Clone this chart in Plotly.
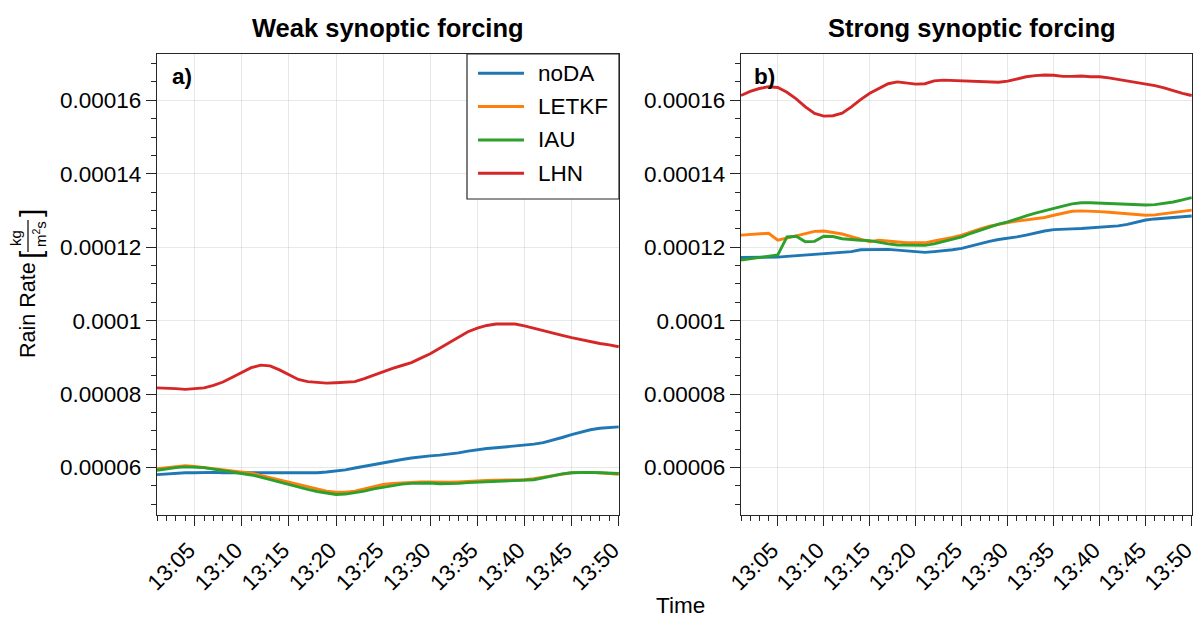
import pandas as pd
import plotly.graph_objects as go

W, H = 1193, 617

# Time axis: one value per minute, 13:01 .. 13:50
times = pd.date_range("2021-07-01 13:01", periods=50, freq="min")

# Domain-mean rain rate, weak synoptic forcing [1e-5 kg m-2 s-1]
weak_noda = [5.81, 5.83, 5.85, 5.86, 5.86, 5.87, 5.87, 5.86, 5.86, 5.86,
             5.85, 5.85, 5.84, 5.84, 5.84, 5.84, 5.85, 5.86, 5.88, 5.90,
             5.94, 5.99, 6.04, 6.08, 6.12, 6.17, 6.22, 6.26, 6.30, 6.32,
             6.34, 6.36, 6.40, 6.45, 6.49, 6.52, 6.54, 6.56, 6.58, 6.61,
             6.64, 6.68, 6.74, 6.82, 6.90, 6.97, 7.03, 7.07, 7.09, 7.11]
weak_letkf = [5.97, 6.00, 6.03, 6.05, 6.03, 6.00, 5.97, 5.95, 5.93, 5.90,
              5.85, 5.79, 5.73, 5.67, 5.61, 5.54, 5.47, 5.41, 5.36, 5.33,
              5.33, 5.36, 5.42, 5.49, 5.54, 5.57, 5.59, 5.61, 5.61, 5.61,
              5.60, 5.60, 5.61, 5.63, 5.64, 5.65, 5.66, 5.66, 5.67, 5.67,
              5.70, 5.74, 5.79, 5.83, 5.86, 5.87, 5.87, 5.86, 5.84, 5.82]
weak_iau = [5.93, 5.97, 6.00, 6.02, 6.02, 6.00, 5.96, 5.92, 5.89, 5.85,
            5.80, 5.74, 5.67, 5.61, 5.55, 5.48, 5.41, 5.35, 5.30, 5.27,
            5.28, 5.31, 5.36, 5.42, 5.47, 5.51, 5.55, 5.57, 5.58, 5.58,
            5.56, 5.56, 5.57, 5.59, 5.60, 5.61, 5.62, 5.63, 5.63, 5.64,
            5.67, 5.72, 5.78, 5.83, 5.86, 5.87, 5.87, 5.86, 5.85, 5.84]
weak_lhn = [8.17, 8.17, 8.15, 8.13, 8.14, 8.17, 8.24, 8.33, 8.46, 8.59,
            8.72, 8.79, 8.77, 8.66, 8.52, 8.40, 8.34, 8.31, 8.30, 8.31,
            8.32, 8.34, 8.42, 8.52, 8.61, 8.70, 8.78, 8.86, 8.98, 9.10,
            9.25, 9.40, 9.56, 9.70, 9.80, 9.87, 9.91, 9.92, 9.91, 9.86,
            9.79, 9.72, 9.66, 9.60, 9.54, 9.48, 9.43, 9.38, 9.34, 9.29]

# Domain-mean rain rate, strong synoptic forcing [1e-5 kg m-2 s-1]
strong_noda = [11.72, 11.72, 11.72, 11.72, 11.73, 11.75, 11.77, 11.79, 11.81, 11.83,
               11.85, 11.86, 11.88, 11.93, 11.94, 11.94, 11.94, 11.92, 11.90, 11.88,
               11.86, 11.88, 11.90, 11.93, 11.97, 12.04, 12.10, 12.16, 12.21, 12.24,
               12.28, 12.33, 12.39, 12.44, 12.48, 12.50, 12.50, 12.51, 12.53, 12.54,
               12.55, 12.58, 12.62, 12.68, 12.74, 12.77, 12.79, 12.81, 12.83, 12.85]
strong_letkf = [12.33, 12.35, 12.37, 12.38, 12.19, 12.24, 12.31, 12.37, 12.43, 12.44,
                12.41, 12.36, 12.29, 12.22, 12.15, 12.19, 12.17, 12.13, 12.12, 12.12,
                12.12, 12.17, 12.21, 12.27, 12.33, 12.42, 12.50, 12.57, 12.63, 12.67,
                12.71, 12.74, 12.77, 12.81, 12.87, 12.93, 12.98, 12.99, 12.99, 12.97,
                12.95, 12.93, 12.91, 12.89, 12.87, 12.88, 12.91, 12.94, 12.97, 13.01]
strong_iau = [11.65, 11.68, 11.72, 11.75, 11.79, 12.28, 12.30, 12.15, 12.16, 12.30,
              12.29, 12.23, 12.20, 12.19, 12.18, 12.13, 12.09, 12.06, 12.05, 12.04,
              12.05, 12.09, 12.15, 12.21, 12.28, 12.38, 12.47, 12.55, 12.63, 12.69,
              12.76, 12.85, 12.93, 13.00, 13.06, 13.12, 13.18, 13.21, 13.21, 13.20,
              13.18, 13.16, 13.15, 13.15, 13.15, 13.16, 13.19, 13.23, 13.29, 13.35]
strong_lhn = [16.13, 16.24, 16.32, 16.37, 16.35, 16.22, 16.04, 15.82, 15.64, 15.57,
              15.58, 15.65, 15.82, 16.02, 16.19, 16.33, 16.45, 16.50, 16.48, 16.44,
              16.45, 16.53, 16.55, 16.54, 16.55, 16.53, 16.51, 16.50, 16.49, 16.52,
              16.59, 16.64, 16.67, 16.69, 16.68, 16.65, 16.65, 16.66, 16.64, 16.64,
              16.61, 16.57, 16.53, 16.48, 16.44, 16.40, 16.34, 16.26, 16.19, 16.13]

series_names = ["noDA", "LETKF", "IAU", "LHN"]
series_colors = ["#1f77b4", "#ff7f0e", "#2ca02c", "#d62728"]
panel_titles = ["Weak synoptic forcing", "Strong synoptic forcing"]
panel_labels = ["a)", "b)"]
ytick_vals = [6e-5, 8e-5, 1e-4, 1.2e-4, 1.4e-4, 1.6e-4]
ytick_text = ["0.00006", "0.00008", "0.0001", "0.00012", "0.00014", "0.00016"]

weak = [weak_noda, weak_letkf, weak_iau, weak_lhn]
strong = [strong_noda, strong_letkf, strong_iau, strong_lhn]

FONT = "Liberation Sans, Arial, sans-serif"
AX = "#262626"
FS = 22.5


def px(x):
    return x / W


def py(y):
    return 1 - y / H


def label(x, y, text, size=FS, angle=0, xanchor="center", bold=False):
    return dict(x=px(x), y=py(y), xref="paper", yref="paper",
                xanchor=xanchor, yanchor="middle", textangle=angle,
                text=f"<b>{text}</b>" if bold else text, showarrow=False,
                font=dict(family=FONT, size=size, color="black"))


fig = go.Figure()

for panel, data in enumerate([weak, strong]):
    xa = "x" if panel == 0 else "x2"
    ya = "y" if panel == 0 else "y2"
    for name, color, vals in zip(series_names, series_colors, data):
        fig.add_trace(go.Scatter(
            x=times, y=[v * 1e-5 for v in vals], mode="lines", name=name,
            line=dict(color=color, width=2.9), xaxis=xa, yaxis=ya,
            showlegend=False, hoverinfo="skip"))

x_common = dict(
    type="date", range=[times[0], times[-1] + pd.Timedelta(seconds=2)],
    tickformat="%H:%M",
    tick0=pd.Timestamp("2021-07-01 13:05"), dtick=300000, tickangle=-45,
    ticklabeloverflow="allow", ticklabelshift=-6, ticklabelstandoff=2,
    ticks="outside", ticklen=10, tickwidth=1.3, tickcolor=AX,
    showline=True, linecolor=AX, linewidth=1.4, mirror=True,
    showgrid=True, gridcolor="rgba(0,0,0,0.09)", gridwidth=1,
    minor=dict(dtick=60000, ticks="outside", ticklen=5, tickwidth=1.1,
               tickcolor=AX, showgrid=False),
    tickfont=dict(family=FONT, size=FS, color="black"), automargin=False,
    zeroline=False)
y_common = dict(
    range=[4.71e-5, 1.726e-4], tickmode="array", tickvals=ytick_vals,
    ticktext=ytick_text, ticks="outside", ticklen=10, tickwidth=1.3,
    tickcolor=AX, showline=True, linecolor=AX, linewidth=1.4, mirror=True,
    showgrid=True, gridcolor="rgba(0,0,0,0.09)", gridwidth=1,
    minor=dict(dtick=5e-6, tick0=0, ticks="outside", ticklen=5,
               tickwidth=1.1, tickcolor=AX, showgrid=False),
    tickfont=dict(family=FONT, size=FS, color="black"), automargin=False,
    zeroline=False)

fig.update_layout(
    width=W, height=H, margin=dict(l=0, r=0, t=0, b=0),
    paper_bgcolor="white", plot_bgcolor="white",
    font=dict(family=FONT, color="black"),
    xaxis=dict(x_common, domain=[px(157), px(619)], anchor="y"),
    yaxis=dict(y_common, domain=[py(515), py(54)], anchor="x"),
    xaxis2=dict(x_common, domain=[px(741), px(1192)], anchor="y2"),
    yaxis2=dict(y_common, domain=[py(515), py(54)], anchor="x2"),
)

annotations = []
# Panel titles
for cx, title in zip([388, 972], panel_titles):
    annotations.append(label(cx, 28, title, size=25.5, bold=True))
# Panel letters
for lx, lab in zip([170, 752], panel_labels):
    annotations.append(label(lx, 77, lab, size=FS, xanchor="left", bold=True))
# Shared x title
annotations.append(label(680, 605, "Time"))
# y title: Rain Rate [kg / m²s]
annotations += [
    label(28, 310, "Rain Rate", size=21.5, angle=-90),
    label(30, 254, "[", size=30, angle=-90),
    label(30, 213, "]", size=30, angle=-90),
    label(16, 238, "kg", size=15, angle=-90),
    label(39, 234, "m<sup>2</sup>s", size=15, angle=-90),
]

# Legend box in panel a
legend_top, legend_left, legend_right, legend_bottom = 54, 467, 619, 199
shapes = [dict(type="rect", xref="paper", yref="paper",
               x0=px(legend_left), x1=px(legend_right),
               y0=py(legend_bottom), y1=py(legend_top),
               line=dict(color=AX, width=1.2), fillcolor="white", layer="above"),
          dict(type="line", xref="paper", yref="paper", x0=px(28), x1=px(28),
               y0=py(252), y1=py(220), line=dict(color="black", width=1.2))]
for i, (name, color) in enumerate(zip(series_names, series_colors)):
    yy = 73.3 + i * 33.3
    shapes.append(dict(type="line", xref="paper", yref="paper",
                       x0=px(478), x1=px(524), y0=py(yy), y1=py(yy),
                       line=dict(color=color, width=3), layer="above"))
    annotations.append(label(536, yy, name, xanchor="left"))

fig.update_layout(annotations=annotations, shapes=shapes)

fig.write_html("out.html")
